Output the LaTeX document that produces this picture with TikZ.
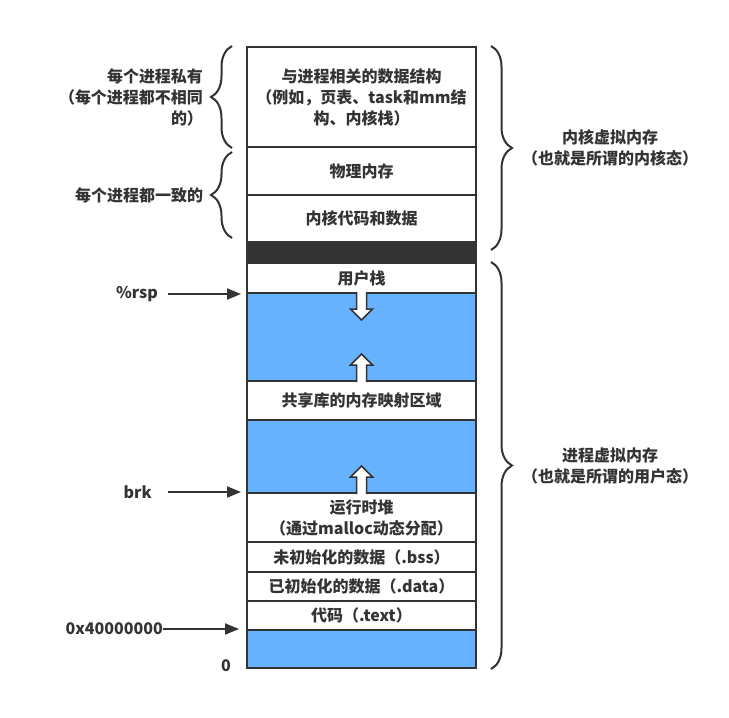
\documentclass[tikz,border=0pt]{standalone}
\usepackage{fontspec}
\setmainfont{Noto Sans CJK SC}
\usetikzlibrary{arrows.meta,decorations.pathreplacing,positioning}
\definecolor{ink}{HTML}{333333}
\definecolor{freeblue}{HTML}{66B2FF}
\tikzset{
  seg/.style={draw=ink, line width=2pt, minimum width=229pt, inner sep=0pt, align=center, text=ink},
  freeseg/.style={seg, fill=freeblue},
  lbl/.style={text=ink, align=center, inner sep=0pt},
  ptr/.style={draw=ink, line width=2pt, -{Triangle[length=14pt,width=11pt]}, shorten >=5pt},
  curly/.style={draw=ink, line width=2pt, decorate, decoration={brace, amplitude=21pt}},
  hollowarrow/.pic={\draw[ink, line width=1.5pt, fill=white, line join=miter]
    (-5,0) -- (-5,17) -- (-11,17) -- (0,28) -- (11,17) -- (5,17) -- (5,0);},
}
\begin{document}
\begin{tikzpicture}[x=1pt, y=1pt, font=\bfseries\fontsize{16}{21}\selectfont]
\useasboundingbox (0,0) rectangle (729,-718);
% address space column
\node[seg, minimum height=100pt] (kdata) at (361.5,-97) {与进程相关的数据结构\\（例如，页表、task和mm结\\构、内核栈）};
\node[seg, minimum height=48pt] (phys) at (361.5,-171) {物理内存};
\node[seg, minimum height=47pt] (kcode) at (361.5,-218.5) {内核代码和数据};
\node[seg, fill=ink, minimum height=21pt] (gap) at (361.5,-252.5) {};
\node[seg, minimum height=30pt] (ustack) at (361.5,-278) {用户栈};
\node[freeseg, minimum height=88pt] (free1) at (361.5,-337) {};
\node[seg, minimum height=39pt] (shlib) at (361.5,-400.5) {共享库的内存映射区域};
\node[freeseg, minimum height=73pt] (free2) at (361.5,-456.5) {};
\node[seg, minimum height=49pt] (heap) at (361.5,-517.5) {运行时堆\\（通过malloc动态分配）};
\node[seg, minimum height=30pt] (bss) at (361.5,-557) {未初始化的数据（.bss）};
\node[seg, minimum height=29pt] (data) at (361.5,-586.5) {已初始化的数据（.data）};
\node[seg, minimum height=29pt] (text) at (361.5,-615.5) {代码（.text）};
\node[freeseg, minimum height=38pt] (low) at (361.5,-649) {};
% growth arrows
\pic[rotate=180] at (free1.north) {hollowarrow};
\pic at (free1.south) {hollowarrow};
\pic at (free2.south) {hollowarrow};
% pointers
\node[lbl, left=88pt of ustack.south west] (rsp) {\%rsp};
\node[lbl, left=94pt of heap.north west] (brk) {brk};
\node[lbl, left=83pt of low.north west] (base) {0x40000000};
\node[lbl, left=15pt of low.south west, yshift=3pt] (zero) {0};
\draw[ptr, shorten <=10pt] (rsp) -- (ustack.south west);
\draw[ptr, shorten <=16pt] (brk) -- (heap.north west);
\draw[ptr, shorten >=7pt] (base) -- (low.north west);
% left braces
\draw[curly] ([xshift=-14pt]kdata.south west) -- node[lbl, align=right, left=28pt] (privlbl) {每个进程私有\\（每个进程都不相同\\的）} ([xshift=-14pt]kdata.north west);
\draw[curly] ([xshift=-14pt,yshift=5pt]kcode.south west) -- node[lbl, align=right, left=28pt] (samelbl) {每个进程都一致的} ([xshift=-14pt,yshift=-6pt]phys.north west);
% right braces
\draw[curly] ([xshift=14pt]kdata.north east) -- node[lbl, right=30pt] (kernlbl) {内核虚拟内存\\（也就是所谓的内核态）} ([xshift=14pt,yshift=-9pt]gap.north east);
\draw[curly] ([xshift=14pt]ustack.north east) -- node[lbl, right=30pt] (userlbl) {进程虚拟内存\\（也就是所谓的用户态）} ([xshift=14pt]low.south east);
\end{tikzpicture}
\end{document}
